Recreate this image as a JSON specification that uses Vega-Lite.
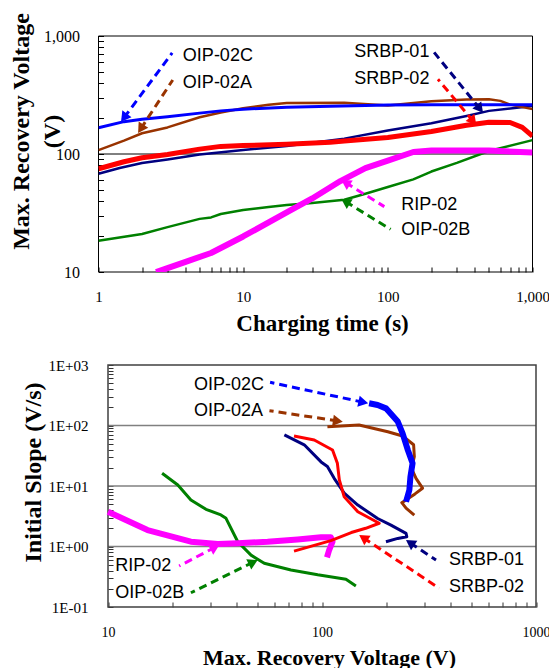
{
  "$schema": "https://vega.github.io/schema/vega-lite/v6.json",
  "padding": {"left": 8.5, "top": 12, "right": 0, "bottom": 0},
  "config": {"view": {"stroke": null}, "font": "Liberation Sans"},
  "spacing": 23,
  "resolve": {"scale": {"x": "independent", "y": "independent", "color": "independent", "strokeWidth": "independent", "angle": "independent"}},
  "datasets": {
    "topFrame": [{"x": 1, "x2": 1000, "y": 10, "y2": 1000}],
    "topGrid": [{"x": 1, "x2": 1000, "y": 100}],
    "topLines": [
      {"series": "OIP-02B", "x": 1, "y": 18.4}, {"series": "OIP-02B", "x": 2, "y": 21}, {"series": "OIP-02B", "x": 3, "y": 24}, {"series": "OIP-02B", "x": 5, "y": 28.2}, {"series": "OIP-02B", "x": 6, "y": 29}, {"series": "OIP-02B", "x": 7, "y": 31}, {"series": "OIP-02B", "x": 10, "y": 33.5}, {"series": "OIP-02B", "x": 15, "y": 35.5}, {"series": "OIP-02B", "x": 20, "y": 37}, {"series": "OIP-02B", "x": 30, "y": 38.5}, {"series": "OIP-02B", "x": 50, "y": 41}, {"series": "OIP-02B", "x": 70, "y": 46}, {"series": "OIP-02B", "x": 100, "y": 52.5}, {"series": "OIP-02B", "x": 150, "y": 61}, {"series": "OIP-02B", "x": 200, "y": 71}, {"series": "OIP-02B", "x": 300, "y": 84}, {"series": "OIP-02B", "x": 500, "y": 106}, {"series": "OIP-02B", "x": 1000, "y": 131},
      {"series": "RIP-02", "x": 2.5, "y": 10}, {"series": "RIP-02", "x": 3, "y": 10.8}, {"series": "RIP-02", "x": 4, "y": 12.2}, {"series": "RIP-02", "x": 6, "y": 14.5}, {"series": "RIP-02", "x": 10, "y": 20}, {"series": "RIP-02", "x": 20, "y": 32}, {"series": "RIP-02", "x": 30, "y": 42}, {"series": "RIP-02", "x": 47, "y": 59}, {"series": "RIP-02", "x": 70, "y": 76}, {"series": "RIP-02", "x": 100, "y": 88}, {"series": "RIP-02", "x": 150, "y": 104}, {"series": "RIP-02", "x": 200, "y": 107}, {"series": "RIP-02", "x": 500, "y": 107}, {"series": "RIP-02", "x": 1000, "y": 103},
      {"series": "SRBP-01", "x": 1, "y": 68}, {"series": "SRBP-01", "x": 1.4, "y": 76}, {"series": "SRBP-01", "x": 2, "y": 84}, {"series": "SRBP-01", "x": 3, "y": 90}, {"series": "SRBP-01", "x": 5, "y": 99}, {"series": "SRBP-01", "x": 10, "y": 108}, {"series": "SRBP-01", "x": 20, "y": 117}, {"series": "SRBP-01", "x": 40, "y": 130}, {"series": "SRBP-01", "x": 50, "y": 135}, {"series": "SRBP-01", "x": 100, "y": 158}, {"series": "SRBP-01", "x": 200, "y": 182}, {"series": "SRBP-01", "x": 350, "y": 210}, {"series": "SRBP-01", "x": 500, "y": 232}, {"series": "SRBP-01", "x": 1000, "y": 255},
      {"series": "SRBP-02", "x": 1, "y": 75}, {"series": "SRBP-02", "x": 1.5, "y": 86}, {"series": "SRBP-02", "x": 2, "y": 93}, {"series": "SRBP-02", "x": 3, "y": 99}, {"series": "SRBP-02", "x": 5, "y": 110}, {"series": "SRBP-02", "x": 7, "y": 116}, {"series": "SRBP-02", "x": 10, "y": 118}, {"series": "SRBP-02", "x": 20, "y": 121}, {"series": "SRBP-02", "x": 40, "y": 126}, {"series": "SRBP-02", "x": 50, "y": 129}, {"series": "SRBP-02", "x": 100, "y": 138}, {"series": "SRBP-02", "x": 200, "y": 155}, {"series": "SRBP-02", "x": 350, "y": 175}, {"series": "SRBP-02", "x": 500, "y": 186}, {"series": "SRBP-02", "x": 700, "y": 185}, {"series": "SRBP-02", "x": 850, "y": 168}, {"series": "SRBP-02", "x": 1000, "y": 142},
      {"series": "OIP-02A", "x": 1, "y": 108}, {"series": "OIP-02A", "x": 1.5, "y": 130}, {"series": "OIP-02A", "x": 2, "y": 150}, {"series": "OIP-02A", "x": 3, "y": 168}, {"series": "OIP-02A", "x": 5, "y": 205}, {"series": "OIP-02A", "x": 7, "y": 225}, {"series": "OIP-02A", "x": 10, "y": 244}, {"series": "OIP-02A", "x": 15, "y": 262}, {"series": "OIP-02A", "x": 20, "y": 270}, {"series": "OIP-02A", "x": 50, "y": 272}, {"series": "OIP-02A", "x": 100, "y": 258}, {"series": "OIP-02A", "x": 200, "y": 280}, {"series": "OIP-02A", "x": 350, "y": 290}, {"series": "OIP-02A", "x": 500, "y": 291}, {"series": "OIP-02A", "x": 600, "y": 282}, {"series": "OIP-02A", "x": 700, "y": 262}, {"series": "OIP-02A", "x": 1000, "y": 240},
      {"series": "OIP-02C", "x": 1, "y": 167}, {"series": "OIP-02C", "x": 1.5, "y": 188}, {"series": "OIP-02C", "x": 2, "y": 197}, {"series": "OIP-02C", "x": 3, "y": 207}, {"series": "OIP-02C", "x": 5, "y": 222}, {"series": "OIP-02C", "x": 7, "y": 232}, {"series": "OIP-02C", "x": 10, "y": 240}, {"series": "OIP-02C", "x": 20, "y": 249}, {"series": "OIP-02C", "x": 40, "y": 254}, {"series": "OIP-02C", "x": 70, "y": 258}, {"series": "OIP-02C", "x": 100, "y": 260}, {"series": "OIP-02C", "x": 200, "y": 262}, {"series": "OIP-02C", "x": 500, "y": 262}, {"series": "OIP-02C", "x": 1000, "y": 262}
    ],
    "topArrows": [
      {"series": "OIP-02C", "x": 1.5, "y": 203, "x2": 3.23, "y2": 718},
      {"series": "OIP-02A", "x": 1.96, "y": 163.5, "x2": 3.26, "y2": 424},
      {"series": "SRBP-01", "x": 433, "y": 241.5, "x2": 209, "y2": 726},
      {"series": "SRBP-02", "x": 389, "y": 189.7, "x2": 222, "y2": 430},
      {"series": "RIP-02", "x": 51, "y": 57.2, "x2": 94.6, "y2": 35.8},
      {"series": "OIP-02B", "x": 51, "y": 39.5, "x2": 104.5, "y2": 23}
    ],
    "topNotes": [
      {"label": "OIP-02C", "x": 3.83, "y": 677},
      {"label": "OIP-02A", "x": 3.83, "y": 400},
      {"label": "SRBP-01", "x": 58.7, "y": 732},
      {"label": "SRBP-02", "x": 58.7, "y": 432},
      {"label": "RIP-02", "x": 124, "y": 37},
      {"label": "OIP-02B", "x": 124, "y": 22.7}
    ],
    "botFrame": [{"x": 10, "x2": 1000, "y": 0.1, "y2": 1000}],
    "botGrid": [{"x": 10, "x2": 1000, "y": 1}, {"x": 10, "x2": 1000, "y": 10}, {"x": 10, "x2": 1000, "y": 100}],
    "botLines": [
      {"series": "OIP-02B", "i": 1, "x": 17.9, "y": 16.2}, {"series": "OIP-02B", "i": 2, "x": 21.2, "y": 10.4}, {"series": "OIP-02B", "i": 3, "x": 24.4, "y": 5.87}, {"series": "OIP-02B", "i": 4, "x": 28.7, "y": 4.12}, {"series": "OIP-02B", "i": 5, "x": 33.7, "y": 3.32}, {"series": "OIP-02B", "i": 6, "x": 35.6, "y": 2.92}, {"series": "OIP-02B", "i": 7, "x": 40.4, "y": 1.2}, {"series": "OIP-02B", "i": 8, "x": 46.6, "y": 0.72}, {"series": "OIP-02B", "i": 9, "x": 53.7, "y": 0.53}, {"series": "OIP-02B", "i": 10, "x": 71.6, "y": 0.41}, {"series": "OIP-02B", "i": 11, "x": 95.5, "y": 0.34}, {"series": "OIP-02B", "i": 12, "x": 129.4, "y": 0.287}, {"series": "OIP-02B", "i": 13, "x": 144, "y": 0.222},
      {"series": "RIP-02", "i": 1, "x": 10, "y": 3.76}, {"series": "RIP-02", "i": 2, "x": 15.3, "y": 1.87}, {"series": "RIP-02", "i": 3, "x": 24.4, "y": 1.2}, {"series": "RIP-02", "i": 4, "x": 32.6, "y": 1.1}, {"series": "RIP-02", "i": 5, "x": 40.4, "y": 1.13}, {"series": "RIP-02", "i": 6, "x": 55.7, "y": 1.2}, {"series": "RIP-02", "i": 7, "x": 76.9, "y": 1.31}, {"series": "RIP-02", "i": 8, "x": 98.9, "y": 1.42}, {"series": "RIP-02", "i": 9, "x": 110, "y": 1.42}, {"series": "RIP-02", "i": 10, "x": 112, "y": 1.2}, {"series": "RIP-02", "i": 11, "x": 108, "y": 0.875}, {"series": "RIP-02", "i": 12, "x": 105.5, "y": 0.66},
      {"series": "SRBP-01", "i": 1, "x": 66.7, "y": 70}, {"series": "SRBP-01", "i": 2, "x": 82.6, "y": 48}, {"series": "SRBP-01", "i": 3, "x": 99, "y": 25}, {"series": "SRBP-01", "i": 4, "x": 106, "y": 21}, {"series": "SRBP-01", "i": 5, "x": 114, "y": 13.4}, {"series": "SRBP-01", "i": 6, "x": 127, "y": 7.6}, {"series": "SRBP-01", "i": 7, "x": 147, "y": 4.85}, {"series": "SRBP-01", "i": 8, "x": 182, "y": 2.9}, {"series": "SRBP-01", "i": 9, "x": 210, "y": 2.26}, {"series": "SRBP-01", "i": 10, "x": 247, "y": 1.65}, {"series": "SRBP-01", "i": 11, "x": 249, "y": 1.45}, {"series": "SRBP-01", "i": 12, "x": 226, "y": 1.36}, {"series": "SRBP-01", "i": 13, "x": 199, "y": 1.2},
      {"series": "SRBP-02", "i": 1, "x": 74, "y": 67}, {"series": "SRBP-02", "i": 2, "x": 92, "y": 57.5}, {"series": "SRBP-02", "i": 3, "x": 112, "y": 39.4}, {"series": "SRBP-02", "i": 4, "x": 118, "y": 23.7}, {"series": "SRBP-02", "i": 5, "x": 120.5, "y": 12.6}, {"series": "SRBP-02", "i": 6, "x": 127, "y": 6.65}, {"series": "SRBP-02", "i": 7, "x": 147, "y": 3.76}, {"series": "SRBP-02", "i": 8, "x": 185, "y": 2.42}, {"series": "SRBP-02", "i": 9, "x": 160, "y": 2.0}, {"series": "SRBP-02", "i": 10, "x": 137, "y": 1.7}, {"series": "SRBP-02", "i": 11, "x": 110, "y": 1.25}, {"series": "SRBP-02", "i": 12, "x": 74, "y": 0.84},
      {"series": "OIP-02A", "i": 1, "x": 106, "y": 95}, {"series": "OIP-02A", "i": 2, "x": 149, "y": 102}, {"series": "OIP-02A", "i": 3, "x": 203, "y": 79}, {"series": "OIP-02A", "i": 4, "x": 238, "y": 67}, {"series": "OIP-02A", "i": 5, "x": 268, "y": 48}, {"series": "OIP-02A", "i": 6, "x": 270, "y": 30.5}, {"series": "OIP-02A", "i": 7, "x": 262, "y": 19.6}, {"series": "OIP-02A", "i": 8, "x": 275, "y": 13.4}, {"series": "OIP-02A", "i": 9, "x": 295, "y": 9.2}, {"series": "OIP-02A", "i": 10, "x": 272, "y": 7.4}, {"series": "OIP-02A", "i": 11, "x": 236, "y": 5.3}, {"series": "OIP-02A", "i": 12, "x": 247, "y": 4.3}, {"series": "OIP-02A", "i": 13, "x": 270, "y": 3.3},
      {"series": "OIP-02C", "i": 1, "x": 166, "y": 233}, {"series": "OIP-02C", "i": 2, "x": 182, "y": 218}, {"series": "OIP-02C", "i": 3, "x": 199, "y": 192}, {"series": "OIP-02C", "i": 4, "x": 226, "y": 116}, {"series": "OIP-02C", "i": 5, "x": 238, "y": 74}, {"series": "OIP-02C", "i": 6, "x": 252, "y": 39}, {"series": "OIP-02C", "i": 7, "x": 265, "y": 23.7}, {"series": "OIP-02C", "i": 8, "x": 259, "y": 14.3}, {"series": "OIP-02C", "i": 9, "x": 256, "y": 8.6}, {"series": "OIP-02C", "i": 10, "x": 247, "y": 5.5}
    ],
    "botArrows": [
      {"series": "OIP-02C", "x": 156, "y": 242, "x2": 57.2, "y2": 517},
      {"series": "OIP-02A", "x": 118.6, "y": 118.7, "x2": 56.8, "y2": 176},
      {"series": "RIP-02", "x": 31.6, "y": 0.97, "x2": 21.5, "y2": 0.476},
      {"series": "OIP-02B", "x": 47.7, "y": 0.55, "x2": 24.4, "y2": 0.172},
      {"series": "SRBP-01", "x": 258, "y": 1.15, "x2": 341, "y2": 0.598},
      {"series": "SRBP-02", "x": 156, "y": 1.39, "x2": 353, "y2": 0.204}
    ],
    "botNotes": [
      {"label": "OIP-02C", "x": 25.2, "y": 467},
      {"label": "OIP-02A", "x": 25.2, "y": 174},
      {"label": "RIP-02", "x": 10.8, "y": 0.476},
      {"label": "OIP-02B", "x": 10.8, "y": 0.17},
      {"label": "SRBP-01", "x": 392, "y": 0.598},
      {"label": "SRBP-02", "x": 392, "y": 0.214}
    ]
  },
  "vconcat": [
    {
      "width": 434,
      "height": 236,
      "encoding": {
        "x": {"field": "x", "type": "quantitative",
          "scale": {"type": "log", "domain": [1, 1000], "nice": false},
          "axis": {"title": "Charging time (s)", "titleFont": "Liberation Serif", "titleFontSize": 23, "titleFontWeight": "bold", "titleColor": "black",
            "titleX": 223.5, "titleY": 51, "titleAlign": "center", "titleBaseline": "middle",
            "values": [1,2,3,4,5,6,7,8,9,10,20,30,40,50,60,70,80,90,100,200,300,400,500,600,700,800,900,1000],
            "labelExpr": "datum.value == 1 ? '1' : datum.value == 10 ? '10' : datum.value == 100 ? '100' : datum.value == 1000 ? '1,000' : ''",
            "labelFont": "Liberation Serif", "labelFontSize": 15, "labelColor": "black", "labelPadding": 22,
            "labelFlush": false, "labelOverlap": false, "labelBound": false,
            "tickSize": -5, "tickColor": "black", "tickWidth": 1, "domain": false, "grid": false}},
        "y": {"field": "y", "type": "quantitative",
          "scale": {"type": "log", "domain": [10, 1000], "nice": false},
          "axis": {"title": ["Max. Recovery Voltage", "(V)"], "titleFont": "Liberation Serif", "titleFontSize": 24, "titleFontWeight": "bold", "titleColor": "black",
            "titleX": -77.5, "titleY": 95, "titleAlign": "center", "titleBaseline": "middle", "titleLineHeight": 31, "titleAngle": 270,
            "values": [10,20,30,40,50,60,70,80,90,100,200,300,400,500,600,700,800,900,1000],
            "labelExpr": "datum.value == 10 ? '10' : datum.value == 100 ? '100' : datum.value == 1000 ? '1,000' : ''",
            "labelFont": "Liberation Serif", "labelFontSize": 16, "labelColor": "black", "labelPadding": 24,
            "labelFlush": false, "labelOverlap": false, "labelBound": false,
            "tickSize": -5, "tickColor": "black", "tickWidth": 1, "domain": false, "grid": false}}
      },
      "layer": [
        {"data": {"name": "topGrid"}, "mark": {"type": "rule", "color": "black", "strokeWidth": 1},
          "encoding": {"x2": {"field": "x2"}}},
        {"data": {"name": "topFrame"}, "mark": {"type": "rect", "fillOpacity": 0, "stroke": "black", "strokeWidth": 1},
          "encoding": {"x2": {"field": "x2"}, "y2": {"field": "y2"}}},
        {"data": {"name": "topLines"}, "mark": {"type": "line", "clip": true, "strokeJoin": "round"},
          "encoding": {
            "color": {"field": "series", "type": "nominal", "legend": null,
              "scale": {"domain": ["OIP-02C", "OIP-02A", "SRBP-01", "SRBP-02", "RIP-02", "OIP-02B"], "range": ["#0000ff", "#993300", "#000080", "#ff0000", "#ff00ff", "#008000"]}},
            "strokeWidth": {"field": "series", "type": "nominal", "legend": null,
              "scale": {"type": "ordinal", "domain": ["OIP-02C", "OIP-02A", "SRBP-01", "SRBP-02", "RIP-02", "OIP-02B"], "range": [3, 2.5, 2.5, 5, 6, 2.5]}}
          }},
        {"data": {"name": "topArrows"}, "mark": {"type": "rule", "strokeWidth": 3, "strokeDash": [8, 5]},
          "encoding": {"x2": {"field": "x2"}, "y2": {"field": "y2"},
            "color": {"field": "series", "type": "nominal", "legend": null,
              "scale": {"domain": ["OIP-02C", "OIP-02A", "SRBP-01", "SRBP-02", "RIP-02", "OIP-02B"], "range": ["#0000ff", "#993300", "#000080", "#ff0000", "#ff00ff", "#008000"]}}}},
        {"data": {"name": "topArrows"}, "mark": {"type": "point", "shape": "triangle-up", "filled": true, "size": 130, "opacity": 1},
          "encoding": {
            "color": {"field": "series", "type": "nominal", "legend": null,
              "scale": {"domain": ["OIP-02C", "OIP-02A", "SRBP-01", "SRBP-02", "RIP-02", "OIP-02B"], "range": ["#0000ff", "#993300", "#000080", "#ff0000", "#ff00ff", "#008000"]}},
            "angle": {"field": "series", "type": "nominal", "legend": null,
              "scale": {"type": "ordinal", "domain": ["OIP-02C", "OIP-02A", "SRBP-01", "SRBP-02", "RIP-02", "OIP-02B"], "range": [216.6, 213.2, 140.8, 140, 301.8, 301.6]}}
          }},
        {"data": {"name": "topNotes"}, "mark": {"type": "text", "align": "left", "baseline": "middle", "font": "Liberation Sans", "fontSize": 18, "color": "black"},
          "encoding": {"text": {"field": "label"}}}
      ]
    },
    {
      "width": 437.5,
      "height": 242,
      "encoding": {
        "x": {"field": "x", "type": "quantitative",
          "scale": {"type": "log", "domain": [10, 1000], "nice": false, "rangeMin": 9.5},
          "axis": {"title": "Max. Recovery Voltage (V)", "titleFont": "Liberation Serif", "titleFontSize": 22, "titleFontWeight": "bold", "titleColor": "black",
            "titleX": 230.5, "titleY": 50, "titleAlign": "center", "titleBaseline": "middle",
            "values": [10,20,30,40,50,60,70,80,90,100,200,300,400,500,600,700,800,900,1000],
            "labelExpr": "datum.value == 10 ? '10' : datum.value == 100 ? '100' : datum.value == 1000 ? '1000' : ''",
            "labelFont": "Liberation Serif", "labelFontSize": 14, "labelColor": "black", "labelPadding": 23,
            "labelFlush": false, "labelOverlap": false, "labelBound": false,
            "tickSize": -5, "tickColor": "#333333", "tickWidth": 1, "domain": false, "grid": false}},
        "y": {"field": "y", "type": "quantitative",
          "scale": {"type": "log", "domain": [0.1, 1000], "nice": false},
          "axis": {"title": "Initial Slope (V/s)", "titleFont": "Liberation Serif", "titleFontSize": 24, "titleFontWeight": "bold", "titleColor": "black",
            "titleX": -75, "titleY": 107, "titleAlign": "center", "titleBaseline": "middle", "titleAngle": 270,
            "offset": -9.5,
            "values": [0.1,0.2,0.3,0.4,0.5,0.6,0.7,0.8,0.9,1,2,3,4,5,6,7,8,9,10,20,30,40,50,60,70,80,90,100,200,300,400,500,600,700,800,900,1000],
            "labelExpr": "datum.value == 1000 ? '1E+03' : datum.value == 100 ? '1E+02' : datum.value == 10 ? '1E+01' : datum.value == 1 ? '1E+00' : datum.value == 0.1 ? '1E-01' : ''",
            "labelFont": "Liberation Serif", "labelFontSize": 15, "labelColor": "black", "labelPadding": 25,
            "labelFlush": false, "labelOverlap": false, "labelBound": false,
            "tickSize": -5, "tickColor": "#333333", "tickWidth": 1, "domain": false, "grid": false}}
      },
      "layer": [
        {"data": {"name": "botGrid"}, "mark": {"type": "rule", "color": "#808080", "strokeWidth": 1.5},
          "encoding": {"x2": {"field": "x2"}}},
        {"data": {"name": "botFrame"}, "mark": {"type": "rect", "fillOpacity": 0, "stroke": "#404040", "strokeWidth": 1.5},
          "encoding": {"x2": {"field": "x2"}, "y2": {"field": "y2"}}},
        {"data": {"name": "botLines"}, "mark": {"type": "line", "clip": true, "strokeJoin": "round"},
          "encoding": {
            "order": {"field": "i", "type": "quantitative"},
            "color": {"field": "series", "type": "nominal", "legend": null,
              "scale": {"domain": ["OIP-02C", "OIP-02A", "SRBP-01", "SRBP-02", "RIP-02", "OIP-02B"], "range": ["#0000ff", "#993300", "#000080", "#ff0000", "#ff00ff", "#008000"]}},
            "strokeWidth": {"field": "series", "type": "nominal", "legend": null,
              "scale": {"type": "ordinal", "domain": ["OIP-02C", "OIP-02A", "SRBP-01", "SRBP-02", "RIP-02", "OIP-02B"], "range": [6, 3, 3, 3, 6, 3]}}
          }},
        {"data": {"name": "botArrows"}, "mark": {"type": "rule", "strokeWidth": 3, "strokeDash": [8, 5]},
          "encoding": {"x2": {"field": "x2"}, "y2": {"field": "y2"},
            "color": {"field": "series", "type": "nominal", "legend": null,
              "scale": {"domain": ["OIP-02C", "OIP-02A", "SRBP-01", "SRBP-02", "RIP-02", "OIP-02B"], "range": ["#0000ff", "#993300", "#000080", "#ff0000", "#ff00ff", "#008000"]}}}},
        {"data": {"name": "botArrows"}, "mark": {"type": "point", "shape": "triangle-up", "filled": true, "size": 130, "opacity": 1},
          "encoding": {
            "color": {"field": "series", "type": "nominal", "legend": null,
              "scale": {"domain": ["OIP-02C", "OIP-02A", "SRBP-01", "SRBP-02", "RIP-02", "OIP-02B"], "range": ["#0000ff", "#993300", "#000080", "#ff0000", "#ff00ff", "#008000"]}},
            "angle": {"field": "series", "type": "nominal", "legend": null,
              "scale": {"type": "ordinal", "domain": ["OIP-02C", "OIP-02A", "SRBP-01", "SRBP-02", "RIP-02", "OIP-02B"], "range": [102.1, 98.5, 303.7, 303.7, 62.3, 63.9]}}
          }},
        {"data": {"name": "botNotes"}, "mark": {"type": "text", "align": "left", "baseline": "middle", "font": "Liberation Sans", "fontSize": 18, "color": "black"},
          "encoding": {"text": {"field": "label"}}}
      ]
    }
  ]
}
